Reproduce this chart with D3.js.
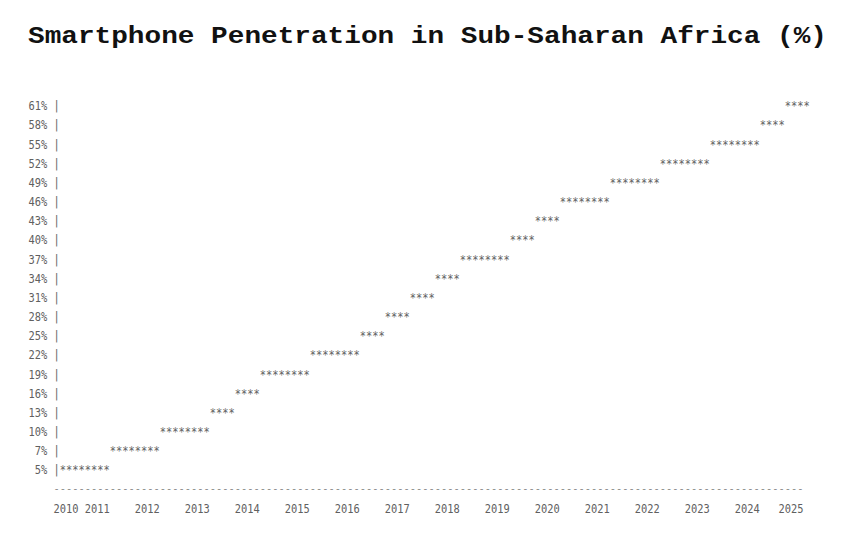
<!DOCTYPE html>
<html>
<head>
<meta charset="utf-8">
<script src="https://cdn.jsdelivr.net/npm/d3@7"></script>
<style>
  html, body { margin: 0; padding: 0; background: #fff; }
  svg { display: block; }
  .mono { font-family: "DejaVu Sans Mono", monospace; font-size: 12px; fill: #606060; }
  .title { font-family: "Liberation Mono", "Courier New", monospace; font-weight: bold; font-size: 23px; fill: #111; }
</style>
</head>
<body>
<div id="chart"></div>
<script>
// half-year periods and the penetration value shown for each
const periods = [
  2010, 2010.5, 2011, 2011.5, 2012, 2012.5, 2013, 2013.5, 2014, 2014.5,
  2015, 2015.5, 2016, 2016.5, 2017, 2017.5, 2018, 2018.5, 2019, 2019.5,
  2020, 2020.5, 2021, 2021.5, 2022, 2022.5, 2023, 2023.5, 2024, 2024.5
];
const penetration = [
  5, 5, 7, 7, 10, 10, 13, 16, 19, 19,
  22, 22, 25, 28, 31, 34, 37, 37, 40, 43,
  46, 46, 49, 49, 52, 52, 55, 55, 58, 61
];
const levels = [61, 58, 55, 52, 49, 46, 43, 40, 37, 34, 31, 28, 25, 22, 19, 16, 13, 10, 7, 5];
const years = d3.range(2010, 2026);
const title = "Smartphone Penetration in Sub-Saharan Africa (%)";

const width = 843;
const height = 535;
const charW = 6.25;
const originX = 28.5;
const periodLen = 0.5;

const svg = d3.select("#chart")
  .append("svg")
  .attr("width", width)
  .attr("height", height);

svg.append("text")
  .attr("class", "title")
  .attr("x", 28)
  .attr("y", 43)
  .attr("textLength", 799)
  .attr("lengthAdjust", "spacingAndGlyphs")
  .text(title);

const xScale = d3.scaleLinear()
  .domain([2010, 2025])
  .range([originX + 5 * charW, originX + 125 * charW]);

const yScale = d3.scalePoint()
  .domain(levels)
  .range([106, 470]);

const rowStep = yScale.step();
const baseline = 4.3;

function chars(str, x, y) {
  return svg.append("text")
    .attr("class", "mono")
    .attr("x", x)
    .attr("y", y + baseline)
    .attr("textLength", str.length * charW)
    .attr("lengthAdjust", "spacingAndGlyphs")
    .attr("xml:space", "preserve")
    .text(str);
}

// y labels and the bar column
levels.forEach((v) => {
  const label = `${v}%`;
  chars(label, originX + (3 - label.length) * charW, yScale(v));
  chars("|", originX + 4 * charW, yScale(v));
});

// star runs: neighbouring periods with the same value share one row of stars
const runs = [];
periods.forEach((p, i) => {
  const last = runs[runs.length - 1];
  if (last && last.value === penetration[i]) {
    last.end = p + periodLen;
  } else {
    runs.push({ start: p, end: p + periodLen, value: penetration[i] });
  }
});

runs.forEach((r) => {
  const x0 = xScale(r.start);
  const x1 = xScale(r.end);
  const n = Math.round((x1 - x0) / charW);
  chars("*".repeat(n), x0, yScale(r.value));
});

// axis rule (smaller font so the dash string fits without squeezing past the edge)
const axisY = yScale(levels[levels.length - 1]) + rowStep;
const ruleStart = xScale(2010) - charW;
const ruleEnd = xScale(2025) - charW;
chars("-".repeat(Math.round((ruleEnd - ruleStart) / charW)), ruleStart, axisY)
  .style("font-size", "10px")
  .attr("y", axisY + 3.2)
  .style("fill", "#8a8a8a");

// year labels
const yearY = axisY + rowStep;
years.forEach((yr) => {
  const label = String(yr);
  const w = label.length * charW;
  const x = Math.min(Math.max(xScale(yr) - w, ruleStart), ruleEnd - w);
  chars(label, x, yearY);
});
</script>
</body>
</html>
